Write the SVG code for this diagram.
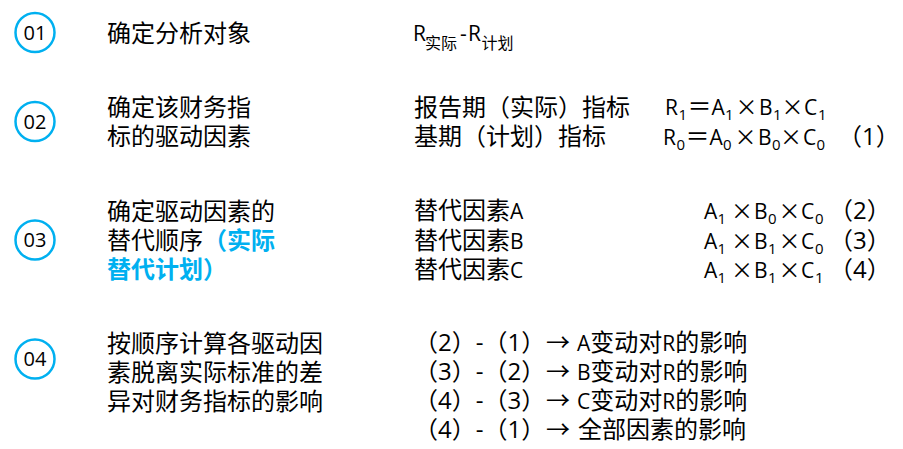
<svg xmlns="http://www.w3.org/2000/svg" width="903" height="449" viewBox="0 0 903 449">
<style>
text{font-family:"Open Sans","Noto Sans CJK SC",sans-serif;fill:#000;}
.cn{font-size:24px;}
.lt{font-size:21px;}
.sb{font-size:15px;}
.sc{font-size:16px;}
.x{font-family:"Noto Sans CJK JP",sans-serif;font-size:22px;text-anchor:middle;}
.num{font-size:20px;text-anchor:middle;}
.blue{fill:#00B0F0;font-weight:bold;}
circle{fill:none;stroke:#00B0F0;stroke-width:2.5;}
</style>
<rect width="903" height="449" fill="#fff"/>
<g id="connectors"/>
<g id="step01">
<circle cx="35" cy="32.5" r="19.5"/>
<text class="num" x="35" y="39.5">01</text>
<text class="cn" x="107" y="42">确定分析对象</text>
<text class="lt" x="413" y="41">R<tspan class="sc" x="425" y="49">实际</tspan><tspan x="460" y="41">-</tspan><tspan x="468" y="41">R</tspan><tspan class="sc" x="481.5" y="49">计划</tspan></text>
</g>
<g id="step02">
<circle cx="35" cy="121.5" r="19.5"/>
<text class="num" x="35" y="128.5">02</text>
<text class="cn" x="107" y="116">确定该财务指</text>
<text class="cn" x="107" y="145">标的驱动因素</text>
<text class="cn" x="414" y="116">报告期（实际）指标</text>
<text class="cn" x="414" y="145">基期（计划）指标</text>
<text class="lt" x="665" y="115">R<tspan class="sb" x="678.5" y="120">1</tspan><tspan class="cn" x="687.5" y="115">＝</tspan><tspan x="711.5" y="115">A</tspan><tspan class="sb" x="725" y="120">1</tspan></text>
<text class="x" x="746.5" y="115">×</text>
<text class="lt" x="759" y="115">B<tspan class="sb" x="773" y="120">1</tspan></text>
<text class="x" x="792.5" y="115">×</text>
<text class="lt" x="804" y="115">C<tspan class="sb" x="818" y="120">1</tspan></text>
<text class="lt" x="663" y="145">R<tspan class="sb" x="676.5" y="150">0</tspan><tspan class="cn" x="685.5" y="145">＝</tspan><tspan x="709.5" y="145">A</tspan><tspan class="sb" x="723" y="150">0</tspan></text>
<text class="x" x="745.5" y="145">×</text>
<text class="lt" x="758" y="145">B<tspan class="sb" x="772" y="150">0</tspan></text>
<text class="x" x="791" y="145">×</text>
<text class="lt" x="803" y="145">C<tspan class="sb" x="816.5" y="150">0</tspan></text>
<text class="cn" x="838" y="145">（1）</text>
</g>
<g id="step03">
<circle cx="35" cy="240" r="19.5"/>
<text class="num" x="35" y="247">03</text>
<text class="cn" x="107" y="220">确定驱动因素的</text>
<text class="cn" x="107" y="249">替代顺序<tspan class="blue">（实际</tspan></text>
<text class="cn blue" x="107" y="278">替代计划）</text>
<text class="cn" x="414" y="219">替代因素<tspan class="lt">A</tspan></text>
<text class="cn" x="414" y="249">替代因素<tspan class="lt">B</tspan></text>
<text class="cn" x="414" y="278">替代因素<tspan class="lt">C</tspan></text>
<text class="lt" x="704" y="219">A<tspan class="sb" x="717.5" y="224">1</tspan></text>
<text class="x" x="742" y="219">×</text>
<text class="lt" x="754" y="219">B<tspan class="sb" x="768" y="224">0</tspan></text>
<text class="x" x="789.5" y="219">×</text>
<text class="lt" x="801" y="219">C<tspan class="sb" x="815" y="224">0</tspan></text>
<text class="cn" x="829" y="219">（2）</text>
<text class="lt" x="704" y="249">A<tspan class="sb" x="717.5" y="254">1</tspan></text>
<text class="x" x="742" y="249">×</text>
<text class="lt" x="754" y="249">B<tspan class="sb" x="768" y="254">1</tspan></text>
<text class="x" x="789.5" y="249">×</text>
<text class="lt" x="801" y="249">C<tspan class="sb" x="815" y="254">0</tspan></text>
<text class="cn" x="829" y="249">（3）</text>
<text class="lt" x="704" y="278">A<tspan class="sb" x="717.5" y="283">1</tspan></text>
<text class="x" x="742" y="278">×</text>
<text class="lt" x="754" y="278">B<tspan class="sb" x="768" y="283">1</tspan></text>
<text class="x" x="789.5" y="278">×</text>
<text class="lt" x="801" y="278">C<tspan class="sb" x="815" y="283">1</tspan></text>
<text class="cn" x="829" y="278">（4）</text>
</g>
<g id="step04">
<circle cx="35" cy="359" r="19.5"/>
<text class="num" x="35" y="366">04</text>
<text class="cn" x="107" y="352">按顺序计算各驱动因</text>
<text class="cn" x="107" y="381">素脱离实际标准的差</text>
<text class="cn" x="107" y="410">异对财务指标的影响</text>
<text class="cn" x="414" y="351">（2）-（1）<tspan x="546">→</tspan><tspan class="lt" x="577">A</tspan>变动对<tspan class="lt">R</tspan>的影响</text>
<text class="cn" x="414" y="380">（3）-（2）<tspan x="546">→</tspan><tspan class="lt" x="577">B</tspan>变动对<tspan class="lt">R</tspan>的影响</text>
<text class="cn" x="414" y="409">（4）-（3）<tspan x="546">→</tspan><tspan class="lt" x="577">C</tspan>变动对<tspan class="lt">R</tspan>的影响</text>
<text class="cn" x="414" y="438">（4）-（1）<tspan x="546">→</tspan><tspan x="578">全部因素的影响</tspan></text>
</g>
</svg>
